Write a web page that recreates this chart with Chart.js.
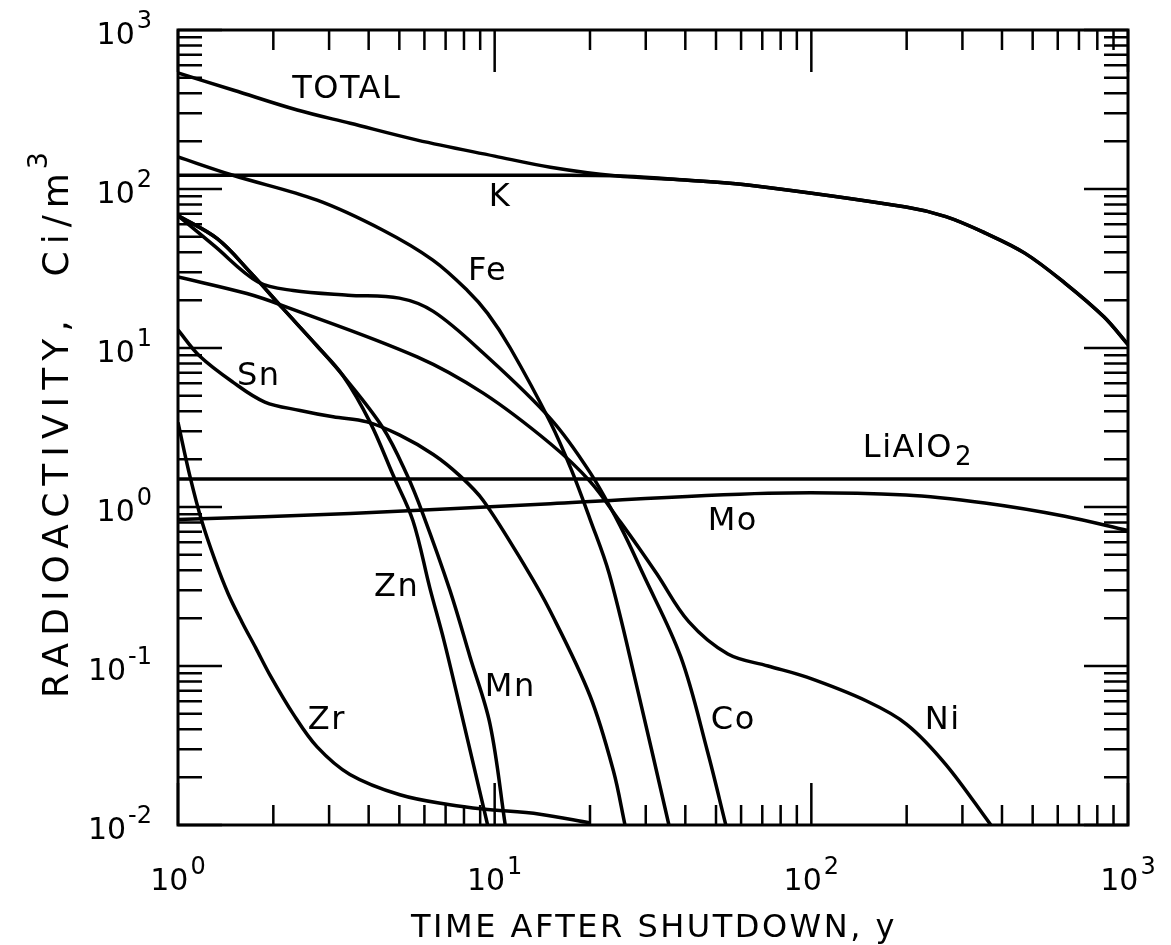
<!DOCTYPE html>
<html>
<head>
<meta charset="utf-8">
<script src="https://cdn.jsdelivr.net/npm/chart.js@4.4.0/dist/chart.umd.min.js"></script>
<style>
  html, body { margin: 0; padding: 0; background: #fff; }
  #wrap { width: 1171px; height: 945px; }
</style>
</head>
<body>
<div id="wrap"><canvas id="chart" width="1171" height="945"></canvas></div>
<script>
// radioactivity (Ci/m3) vs time after shutdown (y)
const totalT = [1, 1.5, 2.38, 3.5, 5.7, 10, 15, 24, 40, 63, 199, 266, 353, 472, 632, 839, 1000];
const totalV = [537, 418, 314, 259, 203, 161, 137, 121, 114, 106, 77, 67, 53, 39.5, 25.6, 15.7, 10.5];

const kT = [1, 15, 24, 40, 63, 199, 266, 353, 472, 632, 839, 1000];
const kV = [122, 122, 121, 114, 106, 77, 67, 53, 39.5, 25.6, 15.7, 10.5];

const feT = [1, 1.49, 2.75, 4.44, 6.38, 8.2, 9.5, 11.2, 15, 17.5, 20, 23, 28, 35.5];
const feV = [159, 122, 85, 55, 35.7, 23, 16.5, 10, 3.4, 1.7, 0.84, 0.38, 0.077, 0.01];

const coT = [1, 1.3, 1.79, 2.31, 3.44, 5, 6.4, 9.2, 15, 20, 25, 29.4, 38.7, 47, 53.7];
const coV = [68, 44, 26, 23, 21.5, 20.6, 17, 9.3, 3.6, 1.65, 0.75, 0.38, 0.114, 0.029, 0.01];

const znT = [1, 1.33, 1.69, 2.14, 2.75, 3.32, 4.04, 4.77, 5.52, 6.24, 6.92, 7.77, 9.5];
const znV = [68, 48.7, 30, 17.8, 10.3, 6.7, 3.42, 1.6, 0.82, 0.31, 0.144, 0.055, 0.01];

const mnT = [1, 1.33, 1.69, 2.14, 2.75, 3.32, 4.44, 5.28, 5.94, 7.22, 8.36, 9.67, 10.8];
const mnV = [68, 48.7, 30, 17.8, 10.3, 6.7, 3.14, 1.6, 0.9, 0.30, 0.114, 0.043, 0.01];

const snT = [1, 1.17, 1.49, 1.88, 2.43, 3.09, 3.95, 5.0, 6.4, 7.77, 9.2, 12.5, 15, 20, 23.7, 25.8];
const snV = [13, 8.9, 6.1, 4.57, 4.05, 3.69, 3.43, 2.84, 2.14, 1.57, 1.1, 0.42, 0.22, 0.065, 0.022, 0.01];

const niT = [1, 1.65, 2.14, 5.69, 9.2, 15, 20, 25, 28.6, 32.5, 41, 54.5, 73, 96.8, 150, 200, 266, 369];
const niV = [28, 22, 18.5, 8.8, 5.2, 2.5, 1.45, 0.8, 0.55, 0.38, 0.19, 0.119, 0.1, 0.085, 0.06, 0.043, 0.024, 0.01];

const moT = [1, 3.5, 15, 73, 199, 353, 632, 1000];
const moV = [0.835, 0.91, 1.05, 1.22, 1.19, 1.06, 0.875, 0.71];

const lialT = [1, 1000];
const lialV = [1.5, 1.5];

const zrT = [1, 1.09, 1.19, 1.31, 1.44, 1.59, 1.76, 1.95, 2.31, 2.75, 3.49, 5.02, 7.22, 9.18, 13.9, 20];
const zrV = [3.4, 1.57, 0.81, 0.46, 0.285, 0.19, 0.13, 0.088, 0.05, 0.031, 0.0208, 0.0155, 0.0134, 0.0126, 0.0117, 0.0103];

// axis decades and their exponent labels
const xDecades = [1, 10, 100, 1000];
const xExp = ['0', '1', '2', '3'];
const yDecades = [0.01, 0.1, 1, 10, 100, 1000];
const yExp = ['-2', '-1', '0', '1', '2', '3'];
const minorSteps = [2, 3, 4, 5, 6, 7, 8, 9];

// curve labels: text and where it sits (t, value)
const curveLabels = [
  ['TOTAL', 3.41, 420],
  ['K', 10.4, 88],
  ['Fe', 9.5, 30],
  ['Sn', 1.8, 6.6],
  ['Mo', 56.5, 0.81],
  ['Zn', 4.9, 0.31],
  ['Mn', 11.2, 0.073],
  ['Zr', 2.95, 0.045],
  ['Co', 56.7, 0.045],
  ['Ni', 260, 0.045]
];

function pts(ts, vs) {
  return ts.map((t, i) => ({ x: t, y: vs[i] }));
}

function series(ts, vs) {
  return {
    data: pts(ts, vs),
    borderColor: '#000',
    borderWidth: 3.5,
    pointRadius: 0,
    fill: false,
    tension: 0.35
  };
}

const FONT = '"DejaVu Sans", sans-serif';

function spacing(ctx, px) {
  if ('letterSpacing' in ctx) ctx.letterSpacing = px + 'px';
}

function pow10(ctx, exp, x, y, mode) {
  ctx.font = '30px ' + FONT;
  const w1 = ctx.measureText('10').width;
  ctx.font = '24px ' + FONT;
  const w2 = ctx.measureText(exp).width;
  const total = w1 + 2 + w2;
  const x0 = mode === 'center' ? x - total / 2 : x - total;
  ctx.textAlign = 'left';
  ctx.textBaseline = 'alphabetic';
  ctx.font = '30px ' + FONT;
  ctx.fillText('10', x0, y);
  ctx.font = '24px ' + FONT;
  ctx.fillText(exp, x0 + w1 + 2, y - 16);
}

const decor = {
  id: 'decor',
  afterDraw(chart) {
    const ctx = chart.ctx;
    const a = chart.chartArea;
    const xs = chart.scales.x;
    const ys = chart.scales.y;
    ctx.save();
    ctx.strokeStyle = '#000';
    ctx.fillStyle = '#000';
    ctx.lineWidth = 3;
    ctx.strokeRect(a.left, a.top, a.right - a.left, a.bottom - a.top);

    // inward ticks on all four sides
    ctx.lineWidth = 2.5;
    ctx.beginPath();
    xDecades.forEach((d, i) => {
      const px = xs.getPixelForValue(d);
      ctx.moveTo(px, a.bottom); ctx.lineTo(px, a.bottom - 42);
      ctx.moveTo(px, a.top); ctx.lineTo(px, a.top + 42);
      if (i < xDecades.length - 1) {
        minorSteps.forEach(k => {
          const mx = xs.getPixelForValue(d * k);
          ctx.moveTo(mx, a.bottom); ctx.lineTo(mx, a.bottom - 20);
          ctx.moveTo(mx, a.top); ctx.lineTo(mx, a.top + 20);
        });
      }
    });
    yDecades.forEach((d, i) => {
      const py = ys.getPixelForValue(d);
      ctx.moveTo(a.left, py); ctx.lineTo(a.left + 44, py);
      ctx.moveTo(a.right, py); ctx.lineTo(a.right - 44, py);
      if (i < yDecades.length - 1) {
        minorSteps.forEach(k => {
          const my = ys.getPixelForValue(d * k);
          ctx.moveTo(a.left, my); ctx.lineTo(a.left + 24, my);
          ctx.moveTo(a.right, my); ctx.lineTo(a.right - 24, my);
        });
      }
    });
    ctx.stroke();

    // tick labels
    xDecades.forEach((d, i) => pow10(ctx, xExp[i], xs.getPixelForValue(d), 890, 'center'));
    yDecades.forEach((d, i) => pow10(ctx, yExp[i], 152, ys.getPixelForValue(d) + 14, 'right'));

    // axis titles
    ctx.font = '32px ' + FONT;
    spacing(ctx, 2.5);
    ctx.textAlign = 'center';
    ctx.textBaseline = 'alphabetic';
    ctx.fillText('TIME AFTER SHUTDOWN, y', 654, 937);

    ctx.save();
    ctx.translate(68, 420);
    ctx.rotate(-Math.PI / 2);
    ctx.font = '36px ' + FONT;
    spacing(ctx, 7);
    const ytxt = 'RADIOACTIVITY,  Ci/m';
    const yw = ctx.measureText(ytxt).width;
    ctx.font = '27px ' + FONT;
    const sw = ctx.measureText('3').width;
    ctx.textAlign = 'left';
    const y0 = -(yw + sw) / 2;
    ctx.font = '36px ' + FONT;
    ctx.fillText(ytxt, y0, 0);
    ctx.font = '27px ' + FONT;
    ctx.fillText('3', y0 + yw - 3, -21);
    ctx.restore();

    // curve labels
    ctx.font = '32px ' + FONT;
    spacing(ctx, 1.5);
    ctx.textAlign = 'center';
    ctx.textBaseline = 'middle';
    curveLabels.forEach(([txt, t, v]) => {
      ctx.fillText(txt, xs.getPixelForValue(t), ys.getPixelForValue(v));
    });
    // LiAlO2 with subscript
    const lx = xs.getPixelForValue(214);
    const ly = ys.getPixelForValue(2.33);
    const lw = ctx.measureText('LiAlO').width;
    ctx.textAlign = 'left';
    ctx.fillText('LiAlO', lx - lw / 2 - 8, ly);
    ctx.font = '26px ' + FONT;
    ctx.fillText('2', lx + lw / 2 - 6, ly + 10);
    ctx.restore();
  }
};

new Chart(document.getElementById('chart'), {
  type: 'line',
  data: {
    datasets: [
      series(totalT, totalV),
      series(kT, kV),
      series(feT, feV),
      series(coT, coV),
      series(znT, znV),
      series(mnT, mnV),
      series(snT, snV),
      series(niT, niV),
      series(moT, moV),
      series(lialT, lialV),
      series(zrT, zrV)
    ]
  },
  options: {
    responsive: false,
    animation: false,
    layout: { padding: { left: 0, top: 30, right: 43, bottom: 0 } },
    plugins: { legend: { display: false }, tooltip: { enabled: false } },
    scales: {
      x: {
        type: 'logarithmic',
        min: 1,
        max: 1000,
        grid: { display: false },
        border: { display: false },
        ticks: { display: false },
        afterFit: (s) => { s.height = 120; }
      },
      y: {
        type: 'logarithmic',
        min: 0.01,
        max: 1000,
        grid: { display: false },
        border: { display: false },
        ticks: { display: false },
        afterFit: (s) => { s.width = 178; }
      }
    }
  },
  plugins: [decor]
});
</script>
</body>
</html>
